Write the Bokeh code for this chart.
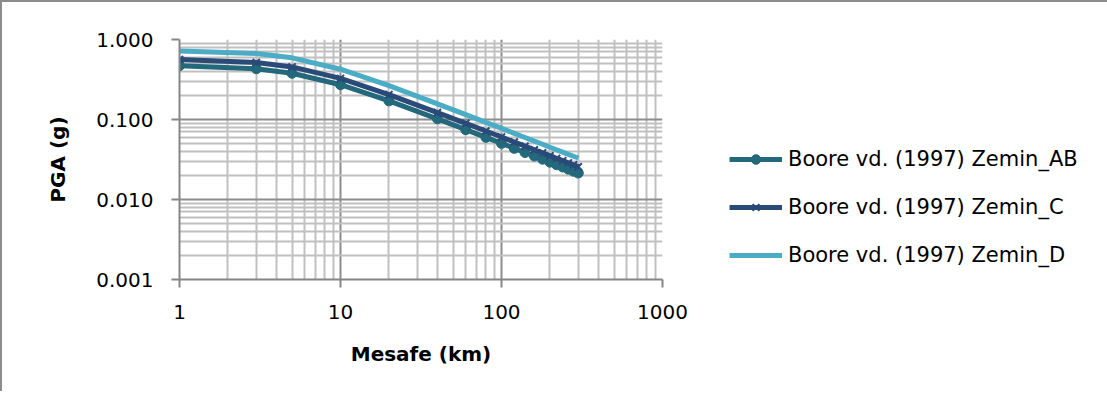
from bokeh.plotting import figure
from bokeh.models import FixedTicker, NumeralTickFormatter, Legend, LegendItem
from bokeh.embed import file_html
from bokeh.resources import INLINE

# Data
distance_km = [1, 3, 5, 10, 20, 40, 60, 80, 100, 120, 140, 160, 180, 200, 220, 240, 260, 280, 300]
pga_ab = [0.470, 0.431, 0.378, 0.272, 0.171, 0.102, 0.0746, 0.0598, 0.0503, 0.0436, 0.0387,
          0.0349, 0.0319, 0.0293, 0.0272, 0.0255, 0.0239, 0.0226, 0.0214]
pga_c = [0.564, 0.517, 0.454, 0.326, 0.205, 0.122, 0.0895, 0.0718, 0.0604, 0.0523, 0.0464,
         0.0419, 0.0383, 0.0352, 0.0326, 0.0306, 0.0287, 0.0271, 0.0257]
pga_d = [0.720, 0.670, 0.590, 0.425, 0.265, 0.157, 0.115, 0.0920, 0.0775, 0.0670, 0.0595,
         0.0536, 0.0490, 0.0450, 0.0418, 0.0391, 0.0367, 0.0347, 0.0330]
series_labels = ["Boore vd. (1997) Zemin_AB", "Boore vd. (1997) Zemin_C", "Boore vd. (1997) Zemin_D"]
x_major = [1, 10, 100, 1000]
y_major = [0.001, 0.01, 0.1, 1]

FONT = "DejaVu Sans"
C_AB = "#23697B"
C_C = "#2A4A78"
C_D = "#4BACC6"

x_minor = [m * d for d in [1, 10, 100] for m in range(2, 10)]
y_minor = [m * d for d in [0.001, 0.01, 0.1] for m in range(2, 10)]

p = figure(x_axis_type="log", y_axis_type="log", x_range=(1, 1000), y_range=(0.001, 1),
           frame_width=483, frame_height=240,
           min_border_left=177, min_border_right=437, min_border_top=37, min_border_bottom=112,
           output_backend="svg", toolbar_location=None)
p.styles = {"border-top": "2px solid #8c8c8c", "border-left": "2px solid #8c8c8c"}
p.outline_line_color = None
p.background_fill_color = "white"
p.border_fill_color = "white"

p.xaxis.ticker = FixedTicker(ticks=x_major, minor_ticks=x_minor)
p.yaxis.ticker = FixedTicker(ticks=y_major, minor_ticks=y_minor)
p.xaxis.formatter = NumeralTickFormatter(format="0")
p.yaxis.formatter = NumeralTickFormatter(format="0.000")

for ax in (p.xaxis, p.yaxis):
    ax.axis_line_color = "#868686"
    ax.axis_line_width = 2
    ax.major_tick_line_color = "#868686"
    ax.major_tick_line_width = 2
    ax.major_tick_out = 8
    ax.major_tick_in = 0
    ax.minor_tick_in = 0
    ax.minor_tick_out = 0
    ax.major_label_text_font = FONT
    ax.major_label_text_font_size = "20px"
    ax.major_label_text_color = "#000000"
    ax.axis_label_text_font = FONT
    ax.axis_label_text_font_size = "20px"
    ax.axis_label_text_font_style = "bold"
    ax.axis_label_text_color = "#000000"

p.xaxis.axis_label = "Mesafe (km)"
p.yaxis.axis_label = "PGA (g)"
p.xaxis.major_label_standoff = 17
p.yaxis.major_label_standoff = 18
p.xaxis.axis_label_standoff = 20
p.yaxis.axis_label_standoff = 23

for g in (p.xgrid, p.ygrid):
    g.grid_line_color = "#8c8c8c"
    g.grid_line_width = 2
    g.minor_grid_line_color = "#c0c0c0"
    g.minor_grid_line_width = 2

r_ab = p.line(distance_km, pga_ab, line_color=C_AB, line_width=5)
m_ab = p.scatter(distance_km, pga_ab, marker="circle", size=10, fill_color=C_AB, line_color=C_AB)
r_c = p.line(distance_km, pga_c, line_color=C_C, line_width=5)
m_c = p.scatter(distance_km, pga_c, marker="x", size=10, line_color=C_C, line_width=2)
r_d = p.line(distance_km, pga_d, line_color=C_D, line_width=5)

legend = Legend(items=[
    LegendItem(label=series_labels[0], renderers=[r_ab, m_ab]),
    LegendItem(label=series_labels[1], renderers=[r_c, m_c]),
    LegendItem(label=series_labels[2], renderers=[r_d]),
], location=(67, 12))
legend.margin = 0
legend.padding = 0
legend.border_line_alpha = 0
legend.background_fill_alpha = 0
legend.glyph_width = 53
legend.glyph_height = 24
legend.spacing = 24
legend.label_standoff = 6
legend.label_text_font = FONT
legend.label_text_font_size = "21px"
legend.label_text_color = "#000000"
p.add_layout(legend, "right")

open("out.html", "w").write(file_html(p, INLINE))
